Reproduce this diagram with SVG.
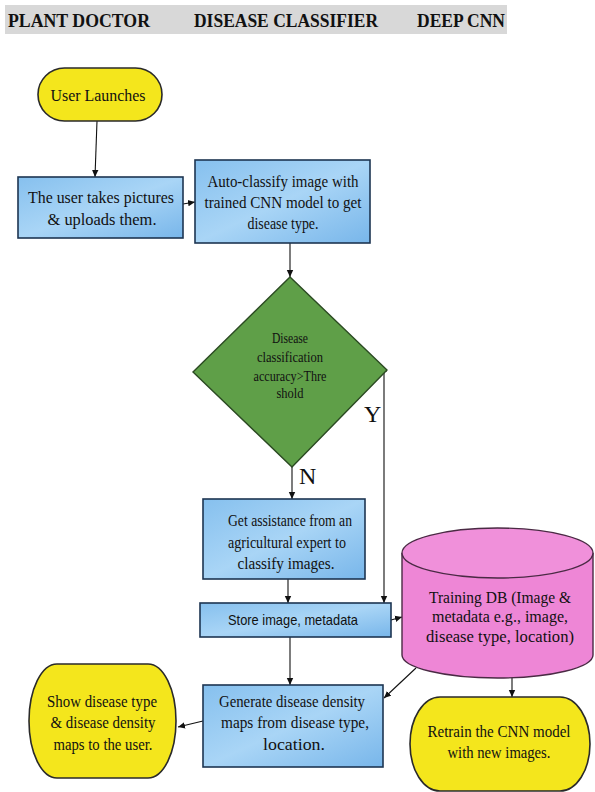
<svg xmlns="http://www.w3.org/2000/svg" width="595" height="792" viewBox="0 0 595 792">
<defs>
<linearGradient id="blue" x1="0" y1="0" x2="1" y2="1">
<stop offset="0" stop-color="#86c0ee"/>
<stop offset="0.5" stop-color="#a9d5f6"/>
<stop offset="1" stop-color="#78b6ea"/>
</linearGradient>
<marker id="ah" markerWidth="8" markerHeight="8" refX="7" refY="4" orient="auto" markerUnits="userSpaceOnUse">
<path d="M0,0.8 L7,4 L0,7.2 Z" fill="#111"/>
</marker>
<style>
.box{fill:url(#blue);stroke:#1d3552;stroke-width:1.6}
.term{fill:#f4e61c;stroke:#2a2a2a;stroke-width:1.6}
.t{font-family:"Liberation Serif","Times New Roman",serif;font-size:17.5px;fill:#111;text-anchor:middle}
.s{font-family:"Liberation Sans",Arial,sans-serif;font-size:15px;fill:#111;text-anchor:middle}
.d{font-family:"Liberation Serif","Times New Roman",serif;font-size:14px;fill:#111;text-anchor:middle}
.h{font-family:"Liberation Serif","Times New Roman",serif;font-size:19px;font-weight:bold;fill:#111}
.c{fill:none;stroke:#111;stroke-width:1.1;marker-end:url(#ah)}
.lbl{font-family:"Liberation Serif","Times New Roman",serif;font-size:24px;fill:#111}
</style>
</defs>
<rect width="595" height="792" fill="#ffffff"/>
<g id="header">
<rect x="5" y="5" width="502" height="29" fill="#d8d8d8"/>
<text class="h" x="8" y="27" textLength="142" lengthAdjust="spacingAndGlyphs">PLANT DOCTOR</text>
<text class="h" x="194" y="27" textLength="184" lengthAdjust="spacingAndGlyphs">DISEASE CLASSIFIER</text>
<text class="h" x="417" y="27" textLength="88" lengthAdjust="spacingAndGlyphs">DEEP CNN</text>
</g>
<g id="connectors">
<line class="c" x1="97" y1="121" x2="95" y2="177"/>
<line class="c" x1="183" y1="204" x2="195" y2="202"/>
<line class="c" x1="290" y1="243" x2="290" y2="277"/>
<line class="c" x1="292" y1="467" x2="292" y2="499"/>
<polyline class="c" points="387,371 384,371 384,603"/>
<line class="c" x1="288" y1="579" x2="288" y2="603"/>
<line class="c" x1="391" y1="620" x2="402" y2="617"/>
<line class="c" x1="290" y1="637" x2="290" y2="685"/>
<line class="c" x1="416" y1="668" x2="384" y2="698"/>
<line class="c" x1="203" y1="721" x2="178" y2="727"/>
<line class="c" x1="512" y1="678" x2="512" y2="697"/>
<text class="lbl" x="364" y="422">Y</text>
<text class="lbl" x="299" y="484">N</text>
</g>
<g id="user-launches">
<rect class="term" x="38" y="68" width="124" height="53" rx="26.5" ry="26.5"/>
<text class="t" x="98" y="101" textLength="95" lengthAdjust="spacingAndGlyphs">User Launches</text>
</g>
<g id="take-pictures">
<rect class="box" x="18" y="177" width="165" height="61"/>
<text class="t" x="101" y="203" textLength="146" lengthAdjust="spacingAndGlyphs">The user takes pictures</text>
<text class="t" x="102" y="225" textLength="109" lengthAdjust="spacingAndGlyphs">&amp; uploads them.</text>
</g>
<g id="auto-classify">
<rect class="box" x="195" y="160" width="175" height="83"/>
<text class="t" x="283" y="187" textLength="151" lengthAdjust="spacingAndGlyphs">Auto-classify image with</text>
<text class="t" x="283" y="208" textLength="157" lengthAdjust="spacingAndGlyphs">trained CNN model to get</text>
<text class="t" x="283" y="229" textLength="71" lengthAdjust="spacingAndGlyphs">disease type.</text>
</g>
<g id="decision">
<polygon points="290,277 387,370 292,467 193,372" fill="#5f9f48" stroke="#2b4a22" stroke-width="1.4"/>
<text class="d" x="290" y="343" textLength="36" lengthAdjust="spacingAndGlyphs">Disease</text>
<text class="d" x="290" y="362" textLength="66" lengthAdjust="spacingAndGlyphs">classification</text>
<text class="d" x="290" y="381" textLength="73" lengthAdjust="spacingAndGlyphs">accuracy&gt;Thre</text>
<text class="d" x="290" y="398" textLength="27" lengthAdjust="spacingAndGlyphs">shold</text>
</g>
<g id="expert">
<rect class="box" x="203" y="499" width="162" height="80"/>
<text class="t" x="290" y="526" textLength="124" lengthAdjust="spacingAndGlyphs">Get assistance from an</text>
<text class="t" x="287" y="548" textLength="118" lengthAdjust="spacingAndGlyphs">agricultural expert to</text>
<text class="t" x="286" y="569" textLength="97" lengthAdjust="spacingAndGlyphs">classify images.</text>
</g>
<g id="store">
<rect class="box" x="200" y="603" width="191" height="34"/>
<text class="s" x="293" y="625" textLength="130" lengthAdjust="spacingAndGlyphs">Store image, metadata</text>
</g>
<g id="training-db">
<path d="M402,553 L402,655 A95.5,23 0 0 0 593,655 L593,553" fill="#ee86d6" stroke="#4a2a44" stroke-width="1.4"/>
<ellipse cx="497.5" cy="553" rx="95.5" ry="25" fill="#f090da" stroke="#4a2a44" stroke-width="1.4"/>
<text class="t" x="500" y="603" textLength="142" lengthAdjust="spacingAndGlyphs">Training DB (Image &amp;</text>
<text class="t" x="500" y="622" textLength="136" lengthAdjust="spacingAndGlyphs">metadata e.g., image,</text>
<text class="t" x="500" y="642" textLength="148" lengthAdjust="spacingAndGlyphs">disease type, location)</text>
</g>
<g id="generate">
<rect class="box" x="203" y="685" width="180" height="82"/>
<text class="t" x="292" y="707" textLength="146" lengthAdjust="spacingAndGlyphs">Generate disease density</text>
<text class="t" x="295" y="728" textLength="148" lengthAdjust="spacingAndGlyphs">maps from disease type,</text>
<text class="t" x="294" y="750" textLength="62" lengthAdjust="spacingAndGlyphs">location.</text>
</g>
<g id="show">
<rect class="term" x="29" y="664" width="147" height="114" rx="28" ry="57"/>
<text class="t" x="102" y="707" textLength="110" lengthAdjust="spacingAndGlyphs">Show disease type</text>
<text class="t" x="103" y="728" textLength="105" lengthAdjust="spacingAndGlyphs">&amp; disease density</text>
<text class="t" x="103" y="750" textLength="99" lengthAdjust="spacingAndGlyphs">maps to the user.</text>
</g>
<g id="retrain">
<rect class="term" x="410" y="697" width="180" height="94" rx="30" ry="47"/>
<text class="t" x="499" y="737" textLength="143" lengthAdjust="spacingAndGlyphs">Retrain the CNN model</text>
<text class="t" x="499" y="758" textLength="103" lengthAdjust="spacingAndGlyphs">with new images.</text>
</g>
</svg>
